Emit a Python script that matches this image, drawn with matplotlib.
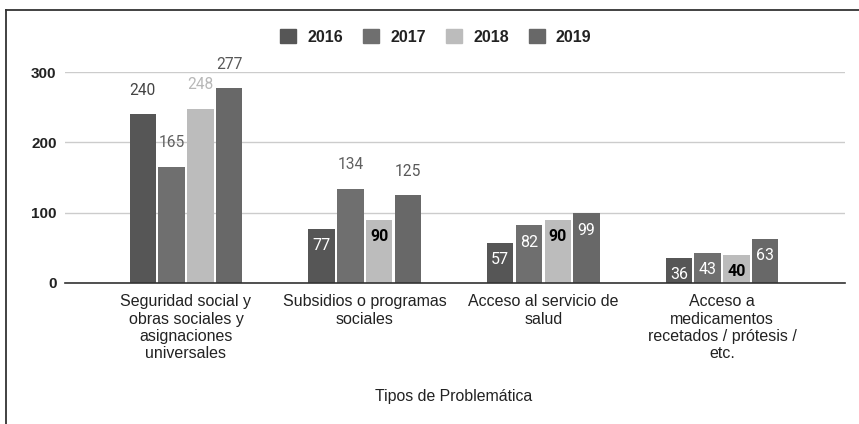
import matplotlib
matplotlib.use("Agg")
import matplotlib.pyplot as plt
from matplotlib.lines import Line2D
from matplotlib.patches import Patch
import numpy as np

categories = ["Seguridad social y\nobras sociales y\nasignaciones\nuniversales",
              "Subsidios o programas\nsociales",
              "Acceso al servicio de\nsalud",
              "Acceso a\nmedicamentos\nrecetados / prótesis /\netc."]
years = ["2016", "2017", "2018", "2019"]
v2016 = [240, 77, 57, 36]
v2017 = [165, 134, 82, 43]
v2018 = [248, 90, 90, 40]
v2019 = [277, 125, 99, 63]
series = [v2016, v2017, v2018, v2019]
yticks = [0, 100, 200, 300]

colors = ["#565656", "#6f6f6f", "#bcbcbc", "#686868"]
inside = [[False, True, True, True],
          [False, False, True, True],
          [False, True, True, True],
          [False, False, True, True]]
out_colors = ["#444444", "#606060", "#b8b8b8", "#585858"]
in_colors = ["white", "white", "black", "white"]

W, H = 859, 424
fig = plt.figure(figsize=(W / 100, H / 100), dpi=100)
ax = fig.add_axes([65 / W, 1 - 283 / H, 780 / W, (283 - 72) / H])

x = np.arange(len(categories))
bw = 0.148
pitch = 0.161
for i, (vals, c) in enumerate(zip(series, colors)):
    xs = x + (i - 1.5) * pitch
    ax.bar(xs, vals, width=bw, color=c, zorder=3)
    for j, (xx, v) in enumerate(zip(xs, vals)):
        if inside[i][j]:
            ax.annotate(str(v), (xx, v), xytext=(0, -17), textcoords="offset pixels",
                        ha="center", va="center", fontsize=11.5, family="Roboto",
                        color=in_colors[i], fontweight="bold" if i == 2 else "normal", zorder=4)
        else:
            ax.annotate(str(v), (xx, v), xytext=(0, 24), textcoords="offset pixels",
                        ha="center", va="center", fontsize=11.2, family="Roboto",
                        color=out_colors[i], zorder=4)

ax.set_ylim(0, 300)
ax.set_xlim(-0.677, 3.688)
ax.set_yticks(yticks)
ax.set_yticklabels([str(t) for t in yticks], fontsize=11, family="Liberation Sans",
                   fontweight="bold", color="#222222")
ax.tick_params(axis="y", length=0, pad=6)
ax.set_xticks(x)
ax.set_xticklabels(categories, fontsize=11.5, family="Liberation Sans", color="#222222",
                   linespacing=1.2, va="top")
ax.tick_params(axis="x", length=0, pad=8)
ax.grid(axis="y", color="#cccccc", linewidth=1, zorder=0)
for s in ["top", "right", "left"]:
    ax.spines[s].set_visible(False)
ax.spines["bottom"].set_color("#333333")
ax.spines["bottom"].set_linewidth(1.2)
ax.spines["bottom"].set_zorder(5)

fig.text(454 / W, 1 - 397 / H, "Tipos de Problemática", ha="center", va="center",
         fontsize=11.4, family="Liberation Sans", color="#222222")

handles = [Patch(facecolor=c, edgecolor=c) for c in colors]
leg = fig.legend(handles, years, loc="center", bbox_to_anchor=(436 / W, 1 - 37 / H),
                 ncol=4, frameon=False, handlelength=1.0, handleheight=1.0,
                 handletextpad=0.7, columnspacing=1.25,
                 prop={"family": "Liberation Sans", "weight": "bold", "size": 11.5})
for t in leg.get_texts():
    t.set_color("#222222")

fig.add_artist(Line2D([6 / W, 1], [1 - 10 / H, 1 - 10 / H], color="#333333", linewidth=1.3,
                      transform=fig.transFigure))
fig.add_artist(Line2D([6 / W, 6 / W], [0, 1 - 10 / H], color="#333333", linewidth=1.3,
                      transform=fig.transFigure))

fig.savefig("out.png", dpi=100)
